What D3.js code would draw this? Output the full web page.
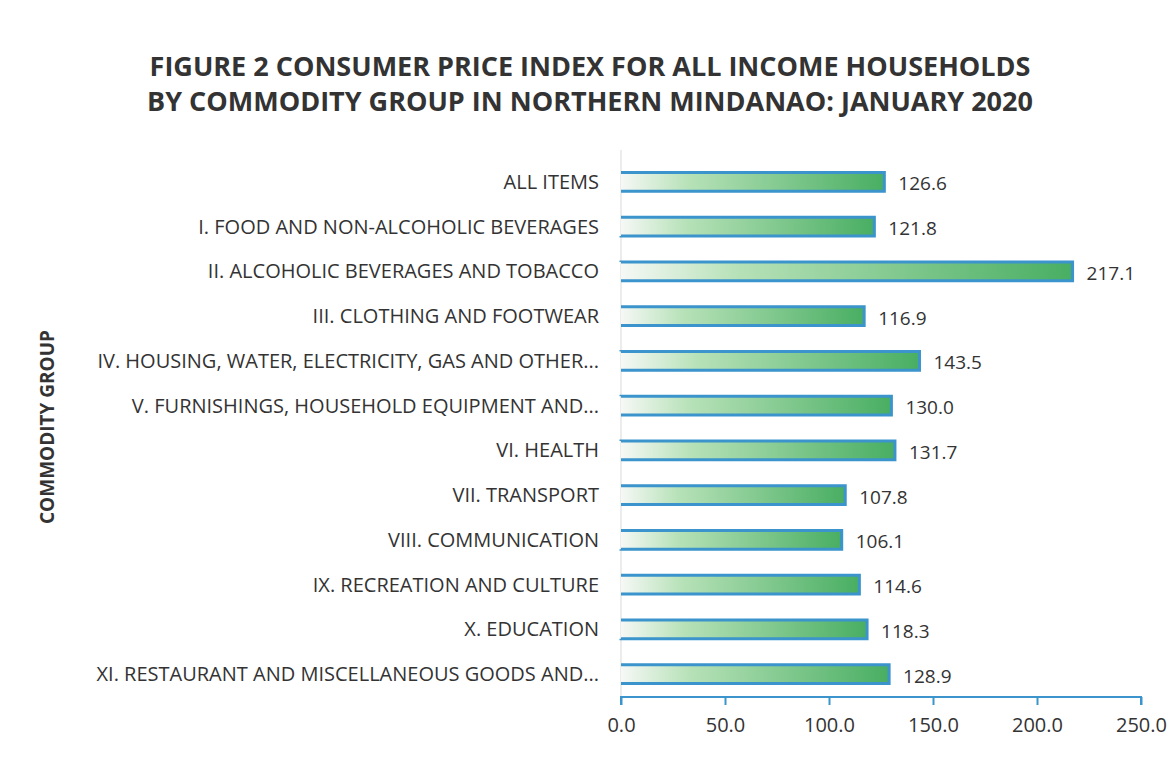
<!DOCTYPE html>
<html>
<head>
<meta charset="utf-8">
<script src="https://cdn.jsdelivr.net/npm/d3@7"></script>
<style>
  body { margin: 0; background: #fff; }
</style>
</head>
<body>
<div class="cpi-chart"></div>
<script>
  const categories = [
    "ALL ITEMS",
    "I. FOOD AND NON-ALCOHOLIC BEVERAGES",
    "II. ALCOHOLIC BEVERAGES AND TOBACCO",
    "III. CLOTHING AND FOOTWEAR",
    "IV. HOUSING, WATER, ELECTRICITY, GAS AND OTHER...",
    "V. FURNISHINGS, HOUSEHOLD EQUIPMENT AND...",
    "VI. HEALTH",
    "VII. TRANSPORT",
    "VIII. COMMUNICATION",
    "IX. RECREATION AND CULTURE",
    "X. EDUCATION",
    "XI. RESTAURANT AND MISCELLANEOUS GOODS AND..."
  ];
  const values = [126.6, 121.8, 217.1, 116.9, 143.5, 130.0, 131.7, 107.8, 106.1, 114.6, 118.3, 128.9];
  const xTicks = [0, 50, 100, 150, 200, 250];
  const titleLines = [
    "FIGURE 2 CONSUMER PRICE INDEX FOR ALL INCOME HOUSEHOLDS",
    "BY COMMODITY GROUP IN NORTHERN MINDANAO: JANUARY 2020"
  ];
  const yTitle = "COMMODITY GROUP";

  const data = categories.map((c, i) => ({ name: c, value: values[i] }));

  const width = 1173;
  const height = 768;
  const plotLeft = 621, plotRight = 1141, plotTop = 159, plotBottom = 697;

  const svg = d3.select('.cpi-chart')
    .append("svg")
    .attr("width", width)
    .attr("height", height);

  const defs = svg.append("defs");
  const grad = defs.append("linearGradient")
    .attr("id", "barGrad")
    .attr("x1", "0%").attr("x2", "100%")
    .attr("y1", "0%").attr("y2", "0%");
  grad.append("stop").attr("offset", "0%").attr("stop-color", "#f6f8f6");
  grad.append("stop").attr("offset", "25%").attr("stop-color", "#b8e2b9");
  grad.append("stop").attr("offset", "100%").attr("stop-color", "#48ae62");

  const x = d3.scaleLinear()
    .domain([0, 250])
    .range([plotLeft, plotRight]);

  const y = d3.scaleBand()
    .domain(categories)
    .range([plotTop, plotBottom])
    .paddingInner(0.58)
    .paddingOuter(0.3);

  // title
  svg.selectAll(".title")
    .data(titleLines)
    .enter()
    .append("text")
    .attr("class", "title")
    .attr("x", 590)
    .attr("y", (d, i) => 76 + i * 35)
    .attr("text-anchor", "middle")
    .attr("font-family", "Open Sans, sans-serif")
    .attr("font-weight", "bold")
    .attr("font-size", "27px")
    .attr("fill", "#333")
    .text(d => d);

  // vertical axis line
  svg.append("line")
    .attr("x1", plotLeft).attr("x2", plotLeft)
    .attr("y1", 150).attr("y2", plotBottom)
    .attr("stroke", "#d9d9d9")
    .attr("stroke-width", 1);

  // bars (no border on the left end)
  svg.selectAll("rect.bar")
    .data(data)
    .enter()
    .append("rect")
    .attr("class", "bar")
    .attr("x", x(0))
    .attr("y", d => y(d.name))
    .attr("width", d => x(d.value) - x(0))
    .attr("height", y.bandwidth())
    .attr("fill", "url(#barGrad)")
    .attr("stroke", "#3b94cc")
    .attr("stroke-width", 3)
    .attr("stroke-dasharray", d => {
      const w = x(d.value) - x(0), h = y.bandwidth();
      return `${2 * w + h} ${h}`;
    });

  // category labels
  svg.selectAll(".category-label")
    .data(data)
    .enter()
    .append("text")
    .attr("class", "category-label")
    .attr("x", 599)
    .attr("y", d => y(d.name) + y.bandwidth() / 2)
    .attr("dy", "0.35em")
    .attr("text-anchor", "end")
    .attr("font-family", "Open Sans, sans-serif")
    .attr("font-size", "20px")
    .attr("fill", "#333")
    .text(d => d.name);

  // value labels
  svg.selectAll(".value-label")
    .data(data)
    .enter()
    .append("text")
    .attr("class", "value-label")
    .attr("x", d => x(d.value) + 14)
    .attr("y", d => y(d.name) + y.bandwidth() / 2)
    .attr("dy", "0.45em")
    .attr("font-family", "Open Sans, sans-serif")
    .attr("font-size", "19px")
    .attr("fill", "#333")
    .text(d => d.value.toFixed(1));

  // x axis
  const xAxis = svg.append("g")
    .attr("transform", `translate(0,${plotBottom})`)
    .call(d3.axisBottom(x).tickValues(xTicks).tickSize(8).tickFormat(d3.format(".1f")));
  xAxis.select(".domain")
    .attr("stroke", "#3b94cc")
    .attr("stroke-width", 2)
    .attr("d", `M${plotLeft},8V0H${plotRight}V8`);
  xAxis.selectAll(".tick line")
    .attr("stroke", "#3b94cc")
    .attr("stroke-width", 2);
  xAxis.selectAll(".tick text")
    .attr("dy", "1.2em")
    .attr("font-family", "Open Sans, sans-serif")
    .attr("font-size", "20px")
    .attr("fill", "#333");

  // y axis title
  svg.append("text")
    .attr("transform", "translate(54,427) rotate(-90)")
    .attr("text-anchor", "middle")
    .attr("font-family", "Open Sans, sans-serif")
    .attr("font-weight", "bold")
    .attr("font-size", "19px")
    .attr("fill", "#333")
    .text(yTitle);
</script>
</body>
</html>
